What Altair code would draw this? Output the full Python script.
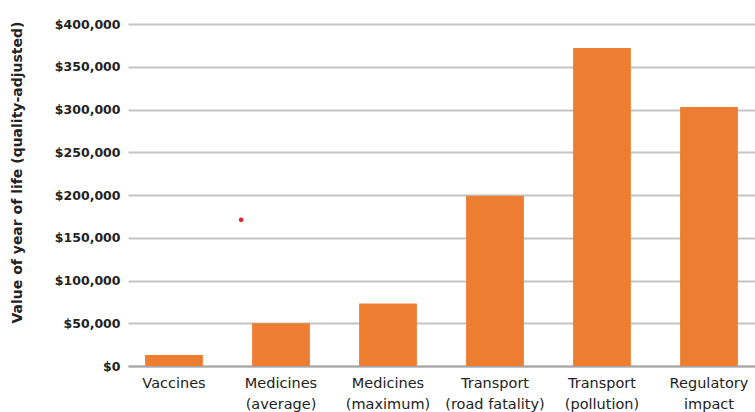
import altair as alt
import pandas as pd

categories = [
    "Vaccines",
    "Medicines\n(average)",
    "Medicines\n(maximum)",
    "Transport\n(road fatality)",
    "Transport\n(pollution)",
    "Regulatory\nimpact",
]
values = [13000, 50000, 73000, 199000, 372000, 303000]

dot_category = ["Medicines\n(average)"]
dot_value = [171000]

df = pd.DataFrame({"category": categories, "value": values})
dots = pd.DataFrame({"category": dot_category, "value": dot_value})

FONT = "DejaVu Sans"

x_enc = alt.X(
    "category:N",
    sort=categories,
    title=None,
    scale=alt.Scale(paddingInner=0.46, paddingOuter=0.16),
    axis=alt.Axis(
        labelExpr="split(datum.label, '\\n')",
        labelAngle=0,
        labelFont=FONT,
        labelFontSize=14.5,
        labelColor="#222222",
        labelLineHeight=21,
        labelPadding=10,
        ticks=False,
        domain=True,
        domainColor="#a6a6a6",
        domainWidth=2,
        grid=False,
    ),
)

y_enc = alt.Y(
    "value:Q",
    scale=alt.Scale(domain=[0, 400000], nice=False),
    axis=alt.Axis(
        values=[0, 50000, 100000, 150000, 200000, 250000, 300000, 350000, 400000],
        format="$,.0f",
        title="Value of year of life (quality-adjusted)",
        titleFont=FONT,
        titleFontSize=14,
        titleFontWeight="bold",
        titleColor="#222222",
        titleX=-111,
        titleY=148,
        titleAngle=-90,
        titleAlign="center",
        titleBaseline="middle",
        labelFont=FONT,
        labelFontSize=12.5,
        labelFontWeight="bold",
        labelColor="#222222",
        labelPadding=8,
        ticks=False,
        domain=False,
        grid=True,
        gridColor="#c4c4c4",
        gridWidth=2,
    ),
)

bars = alt.Chart(df).mark_bar(color="#ED7D31").encode(x=x_enc, y=y_enc)

dot = alt.Chart(dots).mark_circle(color="#e8232a", size=22, opacity=1).encode(
    x=alt.X("category:N", sort=categories),
    y=alt.Y("value:Q"),
    xOffset=alt.value(-11),
)

chart = (
    alt.layer(bars, dot)
    .properties(
        width=627,
        height=342,
        autosize=alt.AutoSizeParams(type="none"),
        padding={"left": 128, "top": 24, "right": 0, "bottom": 46},
        background="white",
    )
    .configure_view(stroke=None)
)

chart.save("out.html", embed_options={"renderer": "svg", "actions": False})
